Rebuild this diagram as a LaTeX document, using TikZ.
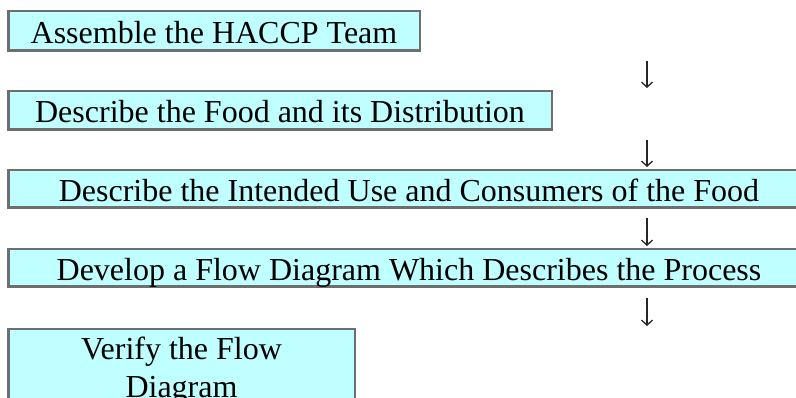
\documentclass[tikz,border=0pt]{standalone}
\usepackage{fontspec}
\setmainfont{Liberation Serif}
\usepackage{tikz}
\usetikzlibrary{arrows.meta}
\definecolor{box_fill}{RGB}{192,255,255}
\definecolor{box_line}{RGB}{110,110,110}

\begin{document}
\begin{tikzpicture}[x=1pt,y=-1pt,
    step_box/.style={rectangle,draw=box_line,fill=box_fill,line width=2.5pt,inner sep=0pt,
      font=\fontsize{32}{38}\selectfont,text height=25pt,text depth=0pt},
    wide_box/.style={step_box,minimum width=801.5pt,minimum height=37.5pt},
    flow_arrow/.style={draw=black!85,line width=1.3pt,-{Straight Barb[length=5pt,width=11pt]}}]
\useasboundingbox (0,0) rectangle (796,398);
	\node[step_box,minimum width=411.5pt,minimum height=39.5pt] (1) at (214,31) {Assemble the HACCP Team};
    \node[step_box,minimum width=543.5pt,minimum height=38.5pt] (2) at (280,110.5) {Describe the Food and its Distribution};
    \node[wide_box] (3) at (409,189) {Describe the Intended Use and Consumers of the Food};
    \node[wide_box] (4) at (409,268) {Develop a Flow Diagram Which Describes the Process};
    \node[step_box,minimum width=346.5pt,minimum height=83.5pt,align=center,text height=,text depth=] (5) at (181.5,371) {Verify the Flow\\Diagram};
    \coordinate (6) at (647,0);
\draw[flow_arrow] ([yshift=-9pt]1.south -| 6) -- ([yshift=2pt]2.north -| 6);
\draw[flow_arrow] ([yshift=-9pt]2.south -| 6) -- ([yshift=2pt]3.north -| 6);
\draw[flow_arrow] ([yshift=-9pt]3.south -| 6) -- ([yshift=2pt]4.north -| 6);
\draw[flow_arrow] ([yshift=-10pt]4.south -| 6) -- ([yshift=2pt]5.north -| 6);
\end{tikzpicture}
\end{document}
